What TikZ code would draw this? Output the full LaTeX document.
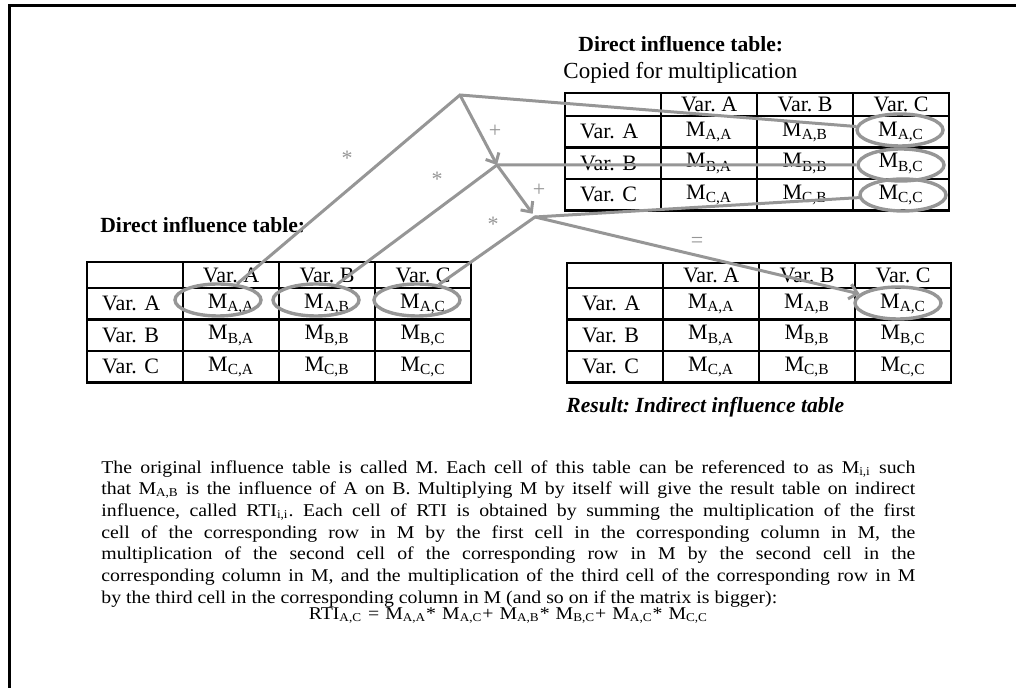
\documentclass[tikz,border=0pt]{standalone}
\usepackage{fontspec}
\setmainfont{Liberation Serif}
\newfontfamily\widefont[FakeStretch=1.1]{Liberation Serif}
\frenchspacing
\usepackage{tikz}
\usetikzlibrary{positioning,shapes.geometric,arrows.meta}
\definecolor{linkgray}{RGB}{150,150,150}

% one influence table: name, left, top, header height (px)
\newcommand{\infltable}[4]{%
  \foreach \c/\lab in {0/{},1/Var. A,2/Var. B,3/Var. C}
    \node[cell, minimum height=#4*0.5pt] (#1-0-\c) at ({#2+96*\c},#3) {\lab};
  \foreach \r/\v in {1/A,2/B,3/C} {
    \node[cell, rowlab] (#1-\r-0) at (#2,{#3+#4+31.5*(\r-1)}) {Var. \v};
    \foreach \c/\w in {1/A,2/B,3/C}
      \node[cell] (#1-\r-\c) at ({#2+96*\c},{#3+#4+31.5*(\r-1)}) {M\textsubscript{\v,\w}};
  }%
}

\begin{document}
\begin{tikzpicture}[x=0.5pt,y=-0.5pt,
    cell/.style={draw, line width=1.1pt, anchor=north west, minimum width=48pt,
      minimum height=15.75pt, inner sep=0pt, font=\fontsize{11}{13}\selectfont},
    rowlab/.style={text width=33pt, align=left, inner xsep=7.5pt},
    oval/.style={ellipse, draw=linkgray, line width=1.7pt, minimum width=43pt,
      minimum height=16pt, inner sep=0pt},
    link/.style={draw=linkgray, line width=1.5pt},
    tip/.style={-{Straight Barb[length=4pt,width=7.5pt]}},
    sign/.style={text=linkgray, font=\fontsize{11}{13}\selectfont, inner sep=1pt},
    title/.style={anchor=west, inner sep=0pt, font=\fontsize{10.8}{12}\selectfont\bfseries},
    para/.style={inner sep=0pt, text width=407pt, align=justify,
      font=\widefont\fontsize{9}{10.85}\selectfont}]
        \useasboundingbox (0,0) rectangle (1016,688);
        \draw[line width=1.5pt] (9,688) -- (9,6) -- (1016,6);

        % tables
        \infltable{dir}{86}{261}{26}
        \infltable{cop}{564}{92}{23}
        \infltable{res}{566}{262}{25}

        \node[title] (dirtitle) at (100,225) {Direct influence table:};
        \node[title] (coptitle) at (578,44) {Direct influence table:};
        \node[anchor=west, inner sep=0pt, font=\fontsize{11.5}{13}\selectfont] (copnote) at (563,73) {Copied for multiplication};
        \node[title, font=\fontsize{10.8}{12}\selectfont\bfseries\itshape] (restitle) at (566,407) {Result: Indirect influence table};

        % circled cells
        \node[oval] (dAA) at (218,300) {};
        \node[oval] (dAB) at (316,300) {};
        \node[oval] (dAC) at (417,300) {};
        \node[oval] (cAC) at (900,130) {};
        \node[oval] (cBC) at (901,165) {};
        \node[oval] (cCC) at (903,195) {};
        \node[oval] (rAC) at (898,303) {};

        % products and sums
        \coordinate (p1) at (460,95);
        \coordinate (p2) at (497,165);
        \coordinate (p3) at (535,217);
        \draw[link] (dAA) -- (p1) -- (cAC);
        \draw[link] (dAB) -- (p2) -- (cBC);
        \draw[link] (dAC) -- (p3) -- (cCC);
        \draw[link,tip] (p1) -- (p2);
        \draw[link,tip,shorten >=2pt] (p2) -- (p3);
        \draw[link,tip] (p3) -- (rAC);
        \node[sign] (plus1) at (495,131) {+};
        \node[sign] (plus2) at (539,190) {+};
        \node[sign] (times1) at (347,158) {*};
        \node[sign] (times2) at (437,179) {*};
        \node[sign] (times3) at (493,224) {*};
        \node[sign] (equal) at (697,242) {=};

        \node[para, anchor=north west] (expl) at (101,460) {The original influence table is called M. Each cell of this table can be referenced to as M\textsubscript{i,i} such\linebreak
        that M\textsubscript{A,B} is the influence of A on B. Multiplying M by itself will give the result table on indirect\linebreak
        influence, called RTI\textsubscript{i,i}. Each cell of RTI is obtained by summing the multiplication of the first\linebreak
        cell of the corresponding row in M by the first cell in the corresponding column in M, the\linebreak
        multiplication of the second cell of the corresponding row in M by the second cell in the\linebreak
        corresponding column in M, and the multiplication of the third cell of the corresponding row in M\linebreak
        by the third cell in the corresponding column in M (and so on if the matrix is bigger):};
        \node[para, align=center, below=0pt of expl] (rti) {RTI\textsubscript{A,C} = M\textsubscript{A,A}* M\textsubscript{A,C}+ M\textsubscript{A,B}* M\textsubscript{B,C}+ M\textsubscript{A,C}* M\textsubscript{C,C}};

    \end{tikzpicture}
\end{document}
